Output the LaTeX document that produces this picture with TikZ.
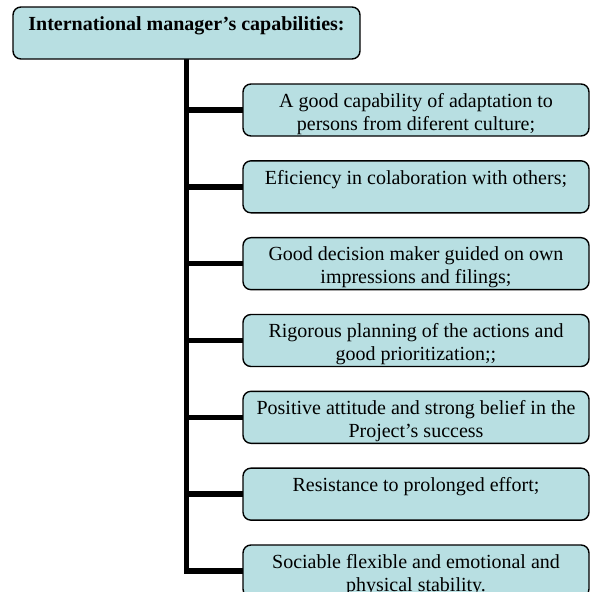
\documentclass[tikz,border=0pt]{standalone}
\usepackage{fontspec}
\setmainfont{Liberation Serif}
\definecolor{boxfill}{RGB}{184,223,226}
\begin{document}
\begin{tikzpicture}[x=1pt,y=-1pt,
  capbox/.style={draw=black, line width=1.4pt, fill=boxfill, rounded corners=8pt,
    minimum width=346pt, minimum height=52pt, inner sep=0pt, outer sep=0pt, anchor=north west},
  captext/.style={anchor=north, inner sep=0pt, align=center, font=\fontsize{20}{23}\selectfont},
  link/.style={line width=5.5pt, line join=miter}]
\useasboundingbox (0,0) rectangle (598,592);
\clip (0,0) rectangle (598,592);
% boxes (positions)
\node[capbox, minimum width=347pt, draw=none, fill=none] (top) at (13,7) {};
\foreach \i in {1,...,7}{
  \node[capbox, draw=none, fill=none] (b\i) at (243,{84+76.83*(\i-1)}) {};
}
% connectors
\draw[link] (top.south) -- (top.south |- b7.west) -- (b7.west);
\foreach \i in {1,...,6}{
  \draw[link] (top.south |- b\i.west) -- (b\i.west);
}
% visible boxes
\node[capbox, minimum width=347pt] (topbox) at (13,7) {};
\node[captext, font=\fontsize{20}{23}\selectfont\bfseries] (toptext) at (186.5,13.9) {\strut International manager’s capabilities:};
\foreach \i/\t in {
  1/{A good capability of adaptation to\\persons from diferent culture;},
  2/{Eficiency in colaboration with others;},
  3/{Good decision maker guided on own\\impressions and filings;},
  4/{Rigorous planning of the actions and\\good prioritization;;},
  5/{Positive attitude and strong belief in the\\Project’s success},
  6/{Resistance to prolonged effort;},
  7/{Sociable flexible and emotional and\\physical stability.}}{
  \node[capbox] (box\i) at (243,{84+76.83*(\i-1)}) {};
  \node[captext] (txt\i) at (416,{84+76.83*(\i-1)+6.9}) {\strut\t};
}
\end{tikzpicture}
\end{document}
